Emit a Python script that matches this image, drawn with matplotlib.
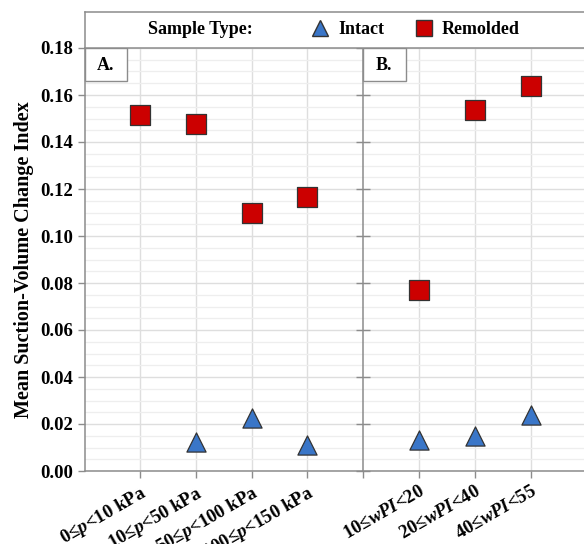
import matplotlib
matplotlib.use("Agg")
import matplotlib.pyplot as plt
from matplotlib.lines import Line2D
from matplotlib.patches import Rectangle
from matplotlib.ticker import MultipleLocator

# data
kat_a = ["0≤$p$<10 kPa", "10≤$p$<50 kPa", "50≤$p$<100 kPa", "100≤$p$<150 kPa"]
kat_b = ["10≤$wPI$<20", "20≤$wPI$<40", "40≤$wPI$<55"]
intact_a = [None, 0.0123, 0.0226, 0.0109]
remolded_a = [0.1515, 0.1475, 0.1099, 0.1165]
intact_b = [0.0131, 0.0148, 0.0240]
remolded_b = [0.0769, 0.1536, 0.1637]

warna_intact = "#3A76C8"
warna_remolded = "#CC0000"
abu = "#8C8C8C"

plt.rcParams['font.family'] = ['Liberation Serif', 'DejaVu Serif']
plt.rcParams['font.weight'] = 'bold'
plt.rcParams['mathtext.fontset'] = 'custom'
plt.rcParams['mathtext.it'] = 'Liberation Serif:bold:italic'
plt.rcParams['mathtext.rm'] = 'Liberation Serif:bold'

W, H = 584, 544
fig = plt.figure(figsize=(W / 100, H / 100), dpi=100)


def kotak(px_kiri, px_atas, px_lebar, px_tinggi):
    return [px_kiri / W, 1 - (px_atas + px_tinggi) / H, px_lebar / W, px_tinggi / H]


ax_a = fig.add_axes(kotak(84.5, 48, 278.5, 423))
ax_b = fig.add_axes(kotak(363, 48, 280, 423))


def gambar_panel(ax, kategori, intact, remolded, huruf, label_y):
    posisi = list(range(1, len(kategori) + 1))
    xi = [p for p, v in zip(posisi, intact) if v is not None]
    yi = [v for v in intact if v is not None]
    ax.scatter(posisi, remolded, marker='s', s=200, color=warna_remolded,
               edgecolor='#333333', linewidth=0.9, zorder=3)
    ax.scatter(xi, yi, marker='^', s=190, color=warna_intact,
               edgecolor='#333333', linewidth=0.9, zorder=3)
    ax.set_xlim(0, 5)
    ax.set_ylim(0, 0.18)
    ax.set_xticks(posisi)
    ax.set_xticklabels(kategori, rotation=30, ha='right', rotation_mode='anchor',
                       fontsize=13.5)
    ax.yaxis.set_major_locator(MultipleLocator(0.02))
    ax.yaxis.set_minor_locator(MultipleLocator(0.005))
    ax.grid(True, which='major', color='#DEDEDE', linewidth=1.0)
    ax.grid(True, which='minor', axis='y', color='#EEEEEE', linewidth=0.9)
    ax.set_axisbelow(True)
    for s in ['top', 'right']:
        ax.spines[s].set_visible(False)
    for s in ['left', 'bottom']:
        ax.spines[s].set_color(abu)
        ax.spines[s].set_linewidth(1.1)
    ax.tick_params(which='major', color=abu, length=5, width=1.0)
    ax.tick_params(axis='y', labelsize=13.5)
    ax.tick_params(which='minor', length=0)
    if label_y:
        ax.set_yticklabels([f"{v:.2f}" for v in ax.get_yticks()])
        ax.tick_params(axis='y', pad=3)
    else:
        ax.tick_params(axis='y', labelleft=False, direction='inout', length=10)
        ax.set_xticks([0], minor=True)
        ax.tick_params(axis='x', which='minor', length=5, width=1.0, color=abu)
    # kotak huruf panel
    ax.add_patch(Rectangle((0, 1), 42.5 / 278.5, -33 / 423, transform=ax.transAxes,
                           facecolor='white', edgecolor=abu, linewidth=1.0,
                           zorder=4, clip_on=False))
    ax.text(21 / 278.5, 1 - 17 / 423, huruf, transform=ax.transAxes, ha='center',
            va='center', fontsize=13, fontweight='bold', zorder=5)


gambar_panel(ax_a, kat_a, intact_a, remolded_a, "A.", True)
gambar_panel(ax_b, kat_b, intact_b, remolded_b, "B.", False)

ax_a.set_ylabel("Mean Suction-Volume Change Index", fontsize=14.5, fontweight='bold',
                labelpad=5)

# kotak legenda di atas
ax_leg = fig.add_axes(kotak(84.5, 12, 560, 36))
ax_leg.set_xticks([])
ax_leg.set_yticks([])
for s in ax_leg.spines.values():
    s.set_color(abu)
    s.set_linewidth(1.1)
fig.text(148 / W, 1 - 30 / H, "Sample Type:", ha='left', va='center', fontsize=13,
         fontweight='bold')
pegangan = [
    Line2D([], [], linestyle='none', marker='^', markersize=12,
           markerfacecolor=warna_intact, markeredgecolor='#333333', label='Intact'),
    Line2D([], [], linestyle='none', marker='s', markersize=12,
           markerfacecolor=warna_remolded, markeredgecolor='#333333', label='Remolded'),
]
fig.legend(handles=pegangan, loc='center left', bbox_to_anchor=(300 / W, 1 - 30 / H),
           ncol=2, frameon=False, prop={'size': 13, 'weight': 'bold'},
           handlelength=1.2, handletextpad=0.4, columnspacing=1.6, borderpad=0)

fig.savefig("out.png", dpi=100)
